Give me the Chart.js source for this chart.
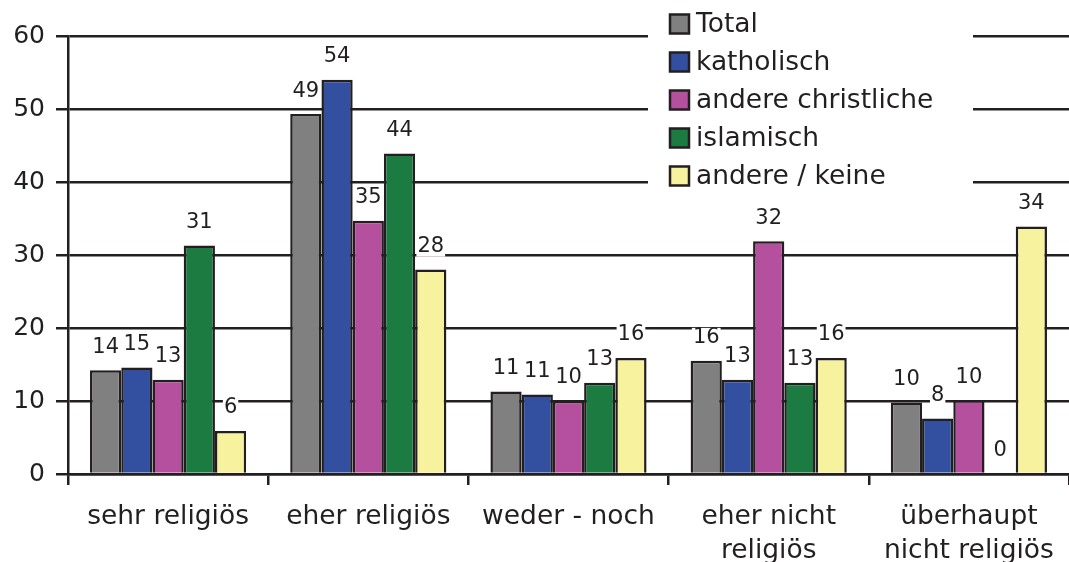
<!DOCTYPE html>
<html>
<head>
<meta charset="utf-8">
<script src="https://cdn.jsdelivr.net/npm/chart.js@4.4.1/dist/chart.umd.min.js"></script>
<style>
  body { margin: 0; background: #fff; }
  #wrap { width: 1069px; height: 562px; position: relative; }
</style>
</head>
<body>
<div id="wrap"><canvas id="chart"></canvas></div>
<script>
const categories = ['sehr religiös', 'eher religiös', 'weder - noch', ['eher nicht', 'religiös'], ['überhaupt', 'nicht religiös']];
const seriesNames = ['Total', 'katholisch', 'andere christliche', 'islamisch', 'andere / keine'];
const total = [14.2, 49.3, 11.3, 15.5, 9.8];
const katholisch = [14.6, 54.0, 10.9, 12.9, 7.6];
const andereChristliche = [12.9, 34.7, 10.0, 31.9, 10.1];
const islamisch = [31.3, 43.9, 12.5, 12.5, 0];
const andereKeine = [5.9, 28.0, 15.9, 15.9, 33.9];
const seriesColors = ['#808080', '#3350a0', '#b5509e', '#1b7b40', '#f7f29e'];

const ink = '#231f20';
const font = '"DejaVu Sans", Verdana, sans-serif';

// labels above each bar, on a white patch that hides the gridlines
const valueLabels = {
    id: 'valueLabels',
    afterDatasetsDraw(chart) {
        const ctx = chart.ctx;
        ctx.save();
        ctx.font = '21px ' + font;
        ctx.textAlign = 'center';
        ctx.textBaseline = 'middle';
        chart.data.datasets.forEach((ds, i) => {
            chart.getDatasetMeta(i).data.forEach((bar, j) => {
                const text = String(Math.round(ds.data[j]));
                const w = ctx.measureText(text).width;
                const y = bar.y - 23;
                ctx.fillStyle = '#fff';
                ctx.fillRect(bar.x - w / 2 - 1, y - 10, w + 2, 20);
                ctx.fillStyle = ink;
                ctx.fillText(text, bar.x, y);
            });
        });
        ctx.restore();
    }
};

// legend box laid over the top right of the plot
const boxLegend = {
    id: 'boxLegend',
    afterDraw(chart) {
        const ctx = chart.ctx;
        ctx.save();
        ctx.fillStyle = '#fff';
        ctx.fillRect(648, 0, 325, 195);
        ctx.font = '26.5px ' + font;
        ctx.textBaseline = 'middle';
        ctx.textAlign = 'left';
        chart.data.datasets.forEach((ds, i) => {
            const y = 24 + 38 * i;
            ctx.fillStyle = ds.backgroundColor;
            ctx.fillRect(670, y - 9.5, 19, 19);
            ctx.strokeStyle = ink;
            ctx.lineWidth = 2.5;
            ctx.strokeRect(670, y - 9.5, 19, 19);
            ctx.fillStyle = ink;
            ctx.fillText(ds.label, 696, y + 1);
        });
        ctx.restore();
    }
};

const seriesData = [total, katholisch, andereChristliche, islamisch, andereKeine];

new Chart(document.getElementById('chart'), {
    type: 'bar',
    data: {
        labels: categories,
        datasets: seriesNames.map((name, i) => ({
            label: name,
            data: seriesData[i],
            backgroundColor: seriesColors[i],
            borderColor: ink,
            borderWidth: 2.5,
            categoryPercentage: 0.78,
            barPercentage: 1.0
        }))
    },
    options: {
        responsive: true,
        maintainAspectRatio: false,
        animation: false,
        layout: { padding: { top: 36, right: 0, bottom: 0, left: 0 } },
        scales: {
            x: {
                grid: { offset: true, drawOnChartArea: false, drawTicks: true, tickLength: 11, color: ink, lineWidth: 2.5 },
                border: { display: true, color: ink, width: 2.5 },
                ticks: { color: ink, font: { family: font, size: 26.5, lineHeight: 1.28 }, padding: 15, maxRotation: 0, autoSkip: false },
                afterFit(scale) { scale.height = 88; }
            },
            y: {
                min: 0,
                max: 60,
                ticks: { stepSize: 10, color: ink, font: { family: font, size: 25 }, padding: 11 },
                grid: { color: ink, lineWidth: 2.5, tickLength: 12 },
                border: { display: true, color: ink, width: 2.5 },
                afterFit(scale) { scale.width = 68; }
            }
        },
        plugins: {
            legend: { display: false },
            tooltip: { enabled: false },
            title: { display: false }
        }
    },
    plugins: [valueLabels, boxLegend]
});
</script>
</body>
</html>
